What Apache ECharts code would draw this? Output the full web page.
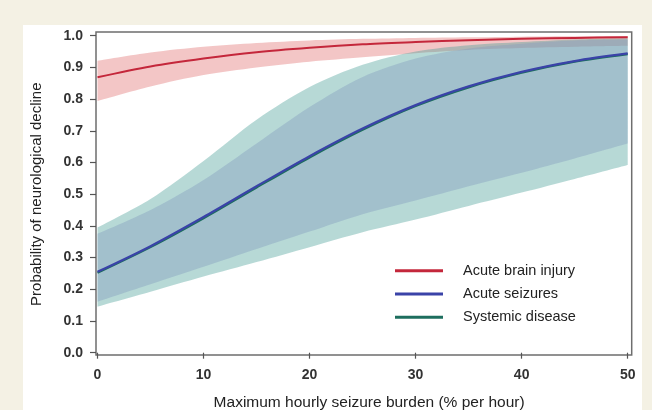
<!DOCTYPE html>
<html><head><meta charset="utf-8">
<script src="https://cdn.jsdelivr.net/npm/echarts@6/dist/echarts.min.js"></script>
<style>
html,body{margin:0;padding:0;background:#f4f1e4;width:652px;height:410px;overflow:hidden;}
#panel{position:absolute;left:23px;top:25px;width:619px;height:385px;background:#ffffff;}
#chart{position:absolute;left:0;top:0;width:652px;height:410px;}
</style></head><body>
<div id="panel"></div><div id="chart"></div>
<script>
// ---- data ----
const xValues = [0, 5, 10, 15, 20, 25, 30, 35, 40, 45, 50];
const yTicks = [0.0, 0.1, 0.2, 0.3, 0.4, 0.5, 0.6, 0.7, 0.8, 0.9, 1.0];
const seriesNames = ['Acute brain injury', 'Acute seizures', 'Systemic disease'];

const brainInjuryMean  = [0.869, 0.903, 0.928, 0.948, 0.962, 0.973, 0.980, 0.986, 0.990, 0.993, 0.995];
const brainInjuryLower = [0.794, 0.840, 0.876, 0.900, 0.918, 0.932, 0.945, 0.955, 0.961, 0.965, 0.968];
const brainInjuryUpper = [0.921, 0.947, 0.965, 0.977, 0.985, 0.990, 0.993, 0.995, 0.997, 0.998, 0.999];

const seizuresMean  = [0.255, 0.336, 0.428, 0.525, 0.620, 0.707, 0.781, 0.840, 0.886, 0.920, 0.944];
const seizuresLower = [0.161, 0.216, 0.271, 0.327, 0.382, 0.437, 0.480, 0.525, 0.568, 0.613, 0.660];
const seizuresUpper = [0.375, 0.450, 0.545, 0.660, 0.775, 0.870, 0.928, 0.960, 0.975, 0.985, 0.988];

const systemicMean  = [0.252, 0.333, 0.424, 0.521, 0.616, 0.703, 0.778, 0.837, 0.883, 0.918, 0.942];
const systemicLower = [0.145, 0.192, 0.240, 0.286, 0.333, 0.380, 0.420, 0.463, 0.505, 0.548, 0.592];
const systemicUpper = [0.395, 0.485, 0.605, 0.735, 0.838, 0.908, 0.950, 0.970, 0.980, 0.988, 0.992];

// ---- build options ----
const FONT = "'Liberation Sans', Arial, sans-serif";
function band(id, lower, upper, fill) {
  return [
    { name: id + ' lo', type: 'line', stack: id, data: lower.slice(), symbol: 'none', smooth: 0.3,
      lineStyle: { opacity: 0, width: 0 }, silent: true, z: 1 },
    { name: id + ' hi', type: 'line', stack: id, data: upper.map((u, i) => +(u - lower[i]).toFixed(4)), symbol: 'none', smooth: 0.3,
      lineStyle: { opacity: 0, width: 0 }, areaStyle: { color: fill, opacity: 1 }, silent: true, z: 1 }
  ];
}
function meanLine(name, ys, color, width, z) {
  return { name: name, type: 'line', data: ys.slice(), symbol: 'none', smooth: 0.3,
    color: color, lineStyle: { color: color, width: width }, itemStyle: { color: color }, z: z };
}

const series = [].concat(
  band('abi', brainInjuryLower, brainInjuryUpper, 'rgba(228,128,128,0.45)'),
  band('sd', systemicLower, systemicUpper, 'rgba(75,160,152,0.4)'),
  band('as', seizuresLower, seizuresUpper, 'rgba(130,154,189,0.4)'),
  [
    meanLine(seriesNames[2], systemicMean, '#1d6e5e', 2.2, 3),
    meanLine(seriesNames[1], seizuresMean, '#3a43a8', 2.2, 4),
    meanLine(seriesNames[0], brainInjuryMean, '#c4273b', 2, 5)
  ]
);

const axisLabelStyle = { fontFamily: FONT, fontSize: 14, fontWeight: 'bold', color: '#333' };

const option = {
  animation: false,
  backgroundColor: 'transparent',
  grid: [
    { left: 97.5, right: 24.3, top: 35.7, bottom: 57.3, containLabel: false, outerBoundsMode: 'none' },
    { left: 96, right: 20.3, top: 32, bottom: 55, outerBoundsMode: 'none', show: true, borderColor: '#6e6e6e', borderWidth: 1.5, backgroundColor: 'transparent' }
  ],
  xAxis: [
    { type: 'category', gridIndex: 0, data: xValues.map(String), boundaryGap: false, offset: 2.3,
      axisLine: { show: false }, splitLine: { show: false },
      axisTick: { show: true, interval: 1, length: 6, lineStyle: { color: '#555', width: 1.2 } },
      axisLabel: Object.assign({ margin: 13, interval: 1 }, axisLabelStyle),
      name: 'Maximum hourly seizure burden (% per hour)', nameLocation: 'middle', nameGap: 40,
      nameTextStyle: { fontFamily: FONT, fontSize: 15.5, color: '#222', padding: [0, 0, 0, 13] } },
    { type: 'value', gridIndex: 1, show: false, min: 0, max: 1 }
  ],
  yAxis: [
    { type: 'value', gridIndex: 0, min: yTicks[0], max: yTicks[yTicks.length - 1], interval: 0.1, offset: 1.5,
      axisLine: { show: false }, splitLine: { show: false },
      axisTick: { show: true, length: 6, lineStyle: { color: '#555', width: 1.2 } },
      axisLabel: Object.assign({ margin: 13, formatter: v => v.toFixed(1) }, axisLabelStyle),
      name: 'Probability of neurological decline', nameLocation: 'middle', nameGap: 52,
      nameTextStyle: { fontFamily: FONT, fontSize: 15, color: '#222' } },
    { type: 'value', gridIndex: 1, show: false, min: 0, max: 1 }
  ],
  legend: {
    data: seriesNames, orient: 'vertical', left: 390, top: 258.3, itemGap: 8.2,
    itemWidth: 48, itemHeight: 3, icon: 'rect',
    itemStyle: { borderWidth: 0 },
    textStyle: { fontFamily: FONT, fontSize: 14.5, color: '#222', padding: [0, 0, 0, 15] },
    selectedMode: false
  },
  series: series
};

const chart = echarts.init(document.getElementById('chart'), null, { renderer: 'canvas' });
chart.setOption(option);
</script>
</body></html>
